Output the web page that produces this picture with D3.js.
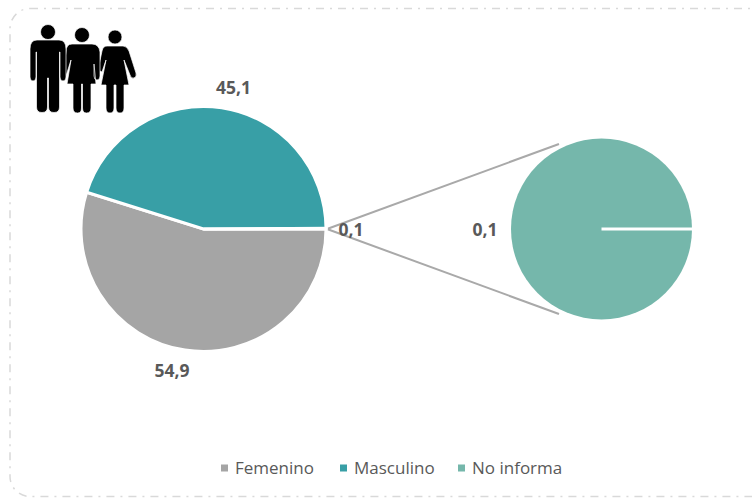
<!DOCTYPE html>
<html>
<head>
<meta charset="utf-8">
<script src="https://cdn.jsdelivr.net/npm/d3@7"></script>
<style>
  html, body { margin: 0; padding: 0; background: #fff; overflow: hidden; }
  text { font-family: "Open Sans", sans-serif; }
</style>
</head>
<body>
<div id="chart"></div>
<script>
var categories = ["Femenino", "Masculino", "No informa"];
var mainValues = [54.9, 45.1, 0.1];
var mainLabels = ["54,9", "45,1", "0,1"];
var detailValues = [0.1];
var detailLabels = ["0,1"];
var colors = ["#a5a5a5", "#389fa6", "#75b7ab"];

var width = 752;
var height = 498;

var svg = d3
  .select("#chart")
  .append("svg")
  .attr("width", width)
  .attr("height", height);

var color = d3.scaleOrdinal().domain(categories).range(colors);

// frame, runs off the right and bottom side like in the screenshot
svg
  .append("rect")
  .attr("x", 10)
  .attr("y", 8.5)
  .attr("width", 762)
  .attr("height", 488)
  .attr("rx", 20)
  .attr("fill", "none")
  .attr("stroke", "#d9d9d9")
  .attr("stroke-width", 1.5)
  .attr("stroke-dasharray", "8 6 2 6");

// connector lines between the two pies
var mainCenter = { x: 203.5, y: 229, r: 122.5 };
var detailCenter = { x: 601.5, y: 229, r: 90.5 };
var tip = mainCenter.x + mainCenter.r + 1;

var connectors = svg.append("g");
[-1, 1].forEach(function(side) {
  connectors
    .append("line")
    .attr("x1", tip)
    .attr("y1", mainCenter.y)
    .attr("x2", 559)
    .attr("y2", mainCenter.y + side * 85)
    .attr("stroke", "#a9a9a9")
    .attr("stroke-width", 2);
});

// main pie, starts at 3 o'clock and goes clockwise
var pie = d3
  .pie()
  .sort(null)
  .startAngle(Math.PI / 2)
  .endAngle(Math.PI / 2 + 2 * Math.PI);

var arc = d3.arc().innerRadius(0).outerRadius(mainCenter.r);

var mainGroup = svg
  .append("g")
  .attr("transform", "translate(" + mainCenter.x + "," + mainCenter.y + ")");

mainGroup
  .selectAll("path")
  .data(pie(mainValues))
  .enter()
  .append("path")
  .attr("d", arc)
  .attr("fill", function(d, i) {
    return color(categories[i]);
  })
  .attr("stroke", "#fff")
  .attr("stroke-width", 3);

// detail pie, only the "No informa" slice
var detailArc = d3.arc().innerRadius(0).outerRadius(detailCenter.r);

var detailGroup = svg
  .append("g")
  .attr("transform", "translate(" + detailCenter.x + "," + detailCenter.y + ")");

var detailSlices = pie(detailValues);

detailGroup
  .selectAll("path")
  .data(detailSlices)
  .enter()
  .append("path")
  .attr("d", detailArc)
  .attr("fill", color(categories[2]));

// a full circle has no radial edge so the slice border is added by hand
var edge = d3.pointRadial(detailSlices[0].startAngle, detailCenter.r);
detailGroup
  .append("line")
  .attr("x1", 0)
  .attr("y1", 0)
  .attr("x2", edge[0])
  .attr("y2", edge[1])
  .attr("stroke", "#fff")
  .attr("stroke-width", 3);

// value labels
var labelPositions = [
  { x: 172, y: 371, text: mainLabels[0] },
  { x: 233.5, y: 88, text: mainLabels[1] },
  { x: 351, y: 230, text: mainLabels[2] },
  { x: 485, y: 230, text: detailLabels[0] }
];

svg
  .append("g")
  .selectAll("text")
  .data(labelPositions)
  .enter()
  .append("text")
  .attr("x", function(d) {
    return d.x;
  })
  .attr("y", function(d) {
    return d.y;
  })
  .attr("dy", "0.35em")
  .attr("text-anchor", "middle")
  .attr("font-size", 17.5)
  .attr("font-weight", 700)
  .attr("fill", "#595959")
  .text(function(d) {
    return d.text;
  });

// legend
var legendX = [221, 340, 458];
var legend = svg
  .append("g")
  .selectAll("g")
  .data(categories)
  .enter()
  .append("g")
  .attr("transform", function(d, i) {
    return "translate(" + legendX[i] + ",468)";
  });

legend
  .append("rect")
  .attr("x", 0)
  .attr("y", -3.5)
  .attr("width", 7)
  .attr("height", 7)
  .attr("fill", function(d) {
    return color(d);
  });

legend
  .append("text")
  .attr("x", 14)
  .attr("y", 0)
  .attr("dy", "0.35em")
  .attr("font-size", 17)
  .attr("fill", "#595959")
  .text(function(d) {
    return d;
  });

// people icon
var icon = svg.append("g").attr("fill", "#000").attr("stroke", "#fff").attr("stroke-width", 0.7);

var man = "M-11 40 H11 Q18 40 18 49 V77 Q18 81 15 81 Q12 81 12 77 V52 H11.5 V107 Q11.5 112.5 6 112.5 Q0.5 112.5 0.5 107 V78 H-0.5 V107 Q-0.5 112.5 -6 112.5 Q-11.5 112.5 -11.5 107 V52 H-12 V77 Q-12 81 -15 81 Q-18 81 -18 77 V49 Q-18 40 -11 40 Z";
var womanTall = "M-10 44 H10 Q17 44 18 52 V76 Q18 80 15 80 Q12 80 12 76 V64 L14 84 H9 V108 Q9 113 4.5 113 Q0.5 113 0.5 108 V84 H-0.5 V108 Q-0.5 113 -4.5 113 Q-9 113 -9 108 V84 H-15 L-11 60 L-16 76 Q-17 79 -20 78 L-16 52 Q-16 44 -10 44 Z";
var womanShort = "M-8 46 H8 Q12 46 14 51 L21 73 Q22 77 19 78 Q16 79 15 75 L9 60 L14 85 H9 V108 Q9 113 5 113 Q1 113 1 108 V85 H-1 V108 Q-1 113 -5 113 Q-9 113 -9 108 V85 H-14 L-9 60 L-13 72 L-17 70 L-13 51 Q-12 46 -8 46 Z";

var people = [
  { x: 115, headY: 37, r: 7, d: womanShort },
  { x: 82, headY: 35, r: 7.5, d: womanTall },
  { x: 48, headY: 32, r: 7.5, d: man }
];

people.forEach(function(p) {
  icon.append("circle").attr("cx", p.x).attr("cy", p.headY).attr("r", p.r);
  icon.append("path").attr("d", p.d).attr("transform", "translate(" + p.x + ",0)");
});
</script>
</body>
</html>
